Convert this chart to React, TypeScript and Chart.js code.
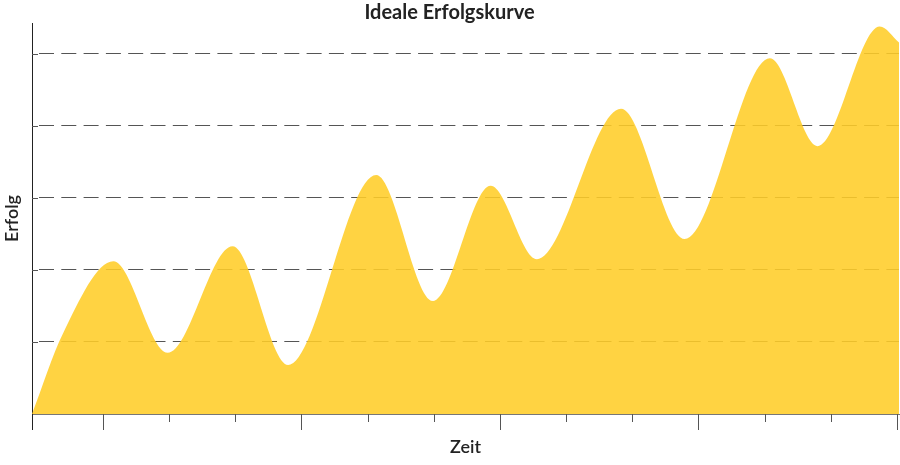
import { useEffect, useRef } from "react"
import { Chart, registerables } from "chart.js"

Chart.register(...registerables)

// curve: peaks and troughs (x in time units, y in grid steps)
const timeValues = [-0.07, 0.4, 1.16, 1.98, 2.96, 3.8, 5.13, 5.99, 6.86, 7.56, 8.83, 9.79, 11.08, 11.8, 12.74, 13.03]
const successValues = [0, 1.12, 2.12, 0.85, 2.33, 0.68, 3.32, 1.57, 3.17, 2.15, 4.24, 2.43, 4.94, 3.72, 5.38, 5.16]

const xTicks = [1, 2, 3, 4, 5, 6, 7, 8, 9, 10, 11, 12, 13]
const xMajorTicks = [1, 4, 7, 10, 13]
const yTicks = [1, 2, 3, 4, 5]

const FONT = "Lato, 'Open Sans', sans-serif"

// tick marks as the reference draws them: long and short ones below the x axis,
// short inner ones on the y axis
const axisMarks = {
  id: "axisMarks",
  beforeDatasetsDraw(chart: any) {
    const { ctx, chartArea, scales } = chart
    ctx.save()
    ctx.strokeStyle = "#555"
    ctx.lineWidth = 1
    for (const v of yTicks) {
      const y = Math.round(scales.y.getPixelForValue(v)) + 0.5
      ctx.beginPath()
      ctx.moveTo(chartArea.left, y)
      ctx.lineTo(chartArea.left + 6, y)
      ctx.stroke()
    }
    ctx.restore()
  },
  afterDraw(chart: any) {
    const { ctx, chartArea, scales } = chart
    ctx.save()
    ctx.lineWidth = 1
    ctx.strokeStyle = "#555"
    for (const v of xTicks) {
      const x = Math.round(scales.x.getPixelForValue(v)) + 0.5
      const len = xMajorTicks.includes(v) ? 16 : 8
      ctx.beginPath()
      ctx.moveTo(x, chartArea.bottom)
      ctx.lineTo(x, chartArea.bottom + len)
      ctx.stroke()
    }
    ctx.strokeStyle = "#222"
    const x0 = Math.round(chartArea.left) + 0.5
    ctx.beginPath()
    ctx.moveTo(x0, chartArea.bottom)
    ctx.lineTo(x0, chartArea.bottom + 16)
    ctx.stroke()
    ctx.restore()
  },
}

export default function App() {
  const chartRef = useRef<HTMLCanvasElement | null>(null)
  const chartInstance = useRef<Chart | null>(null)

  useEffect(() => {
    if (!chartRef.current) return
    const ctx = chartRef.current.getContext("2d")
    if (!ctx) return
    if (chartInstance.current) chartInstance.current.destroy()

    chartInstance.current = new Chart(ctx, {
      type: "line",
      data: {
        datasets: [
          {
            label: "Erfolg",
            data: timeValues.map((x, i) => ({ x, y: successValues[i] })),
            backgroundColor: "rgba(255, 205, 40, 0.88)",
            borderWidth: 0,
            pointRadius: 0,
            fill: "origin",
            cubicInterpolationMode: "monotone",
          },
        ],
      },
      options: {
        animation: false,
        responsive: true,
        maintainAspectRatio: false,
        layout: { padding: { right: 1 } },
        plugins: {
          legend: { display: false },
          tooltip: { enabled: false },
          title: {
            display: true,
            text: "Ideale Erfolgskurve",
            color: "#222",
            font: { family: FONT, size: 20, weight: "bold", lineHeight: 1 },
            padding: { top: 3, bottom: 0 },
          },
        },
        scales: {
          x: {
            type: "linear",
            min: -0.07,
            max: 13.03,
            afterBuildTicks: (scale: any) => {
              scale.ticks = xTicks.map((value) => ({ value }))
            },
            grid: { display: false, drawTicks: false },
            border: { display: true, color: "#777", width: 1 },
            ticks: { display: false },
            title: {
              display: true,
              text: "Zeit",
              color: "#222",
              font: { family: FONT, size: 18, weight: "600", lineHeight: 1.2 },
              padding: { top: 22.2, bottom: 7.2 },
            },
          },
          y: {
            type: "linear",
            min: 0,
            max: 5.43,
            afterBuildTicks: (scale: any) => {
              scale.ticks = yTicks.map((value) => ({ value }))
            },
            grid: { color: "#555", lineWidth: 1, drawTicks: false },
            border: { display: true, color: "#222", width: 1, dash: [15, 7.3], dashOffset: 16.3 },
            ticks: { display: false },
            title: {
              display: true,
              text: "Erfolg",
              color: "#222",
              font: { family: FONT, size: 18, weight: "600", lineHeight: 1.2 },
              padding: { top: 1, bottom: 9.4 },
            },
          },
        },
      },
      plugins: [axisMarks],
    })

    return () => {
      if (chartInstance.current) {
        chartInstance.current.destroy()
        chartInstance.current = null
      }
    }
  }, [])

  return (
    <div style={{ position: "absolute", left: 0, top: 0, width: 900, height: 465, background: "#fff" }}>
      <canvas ref={chartRef} />
    </div>
  )
}
